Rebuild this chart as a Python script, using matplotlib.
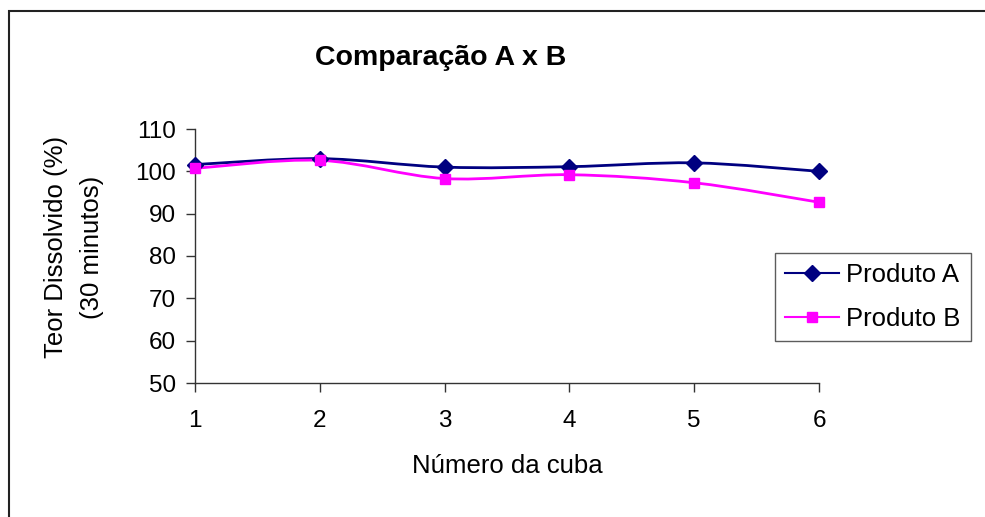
import matplotlib
matplotlib.use("Agg")
import matplotlib.pyplot as plt
from matplotlib.path import Path
from matplotlib.patches import PathPatch, Rectangle
from matplotlib.lines import Line2D

plt.rcParams['font.family'] = ['Liberation Sans', 'DejaVu Sans']

cubas = [1, 2, 3, 4, 5, 6]
produto_a = [101.6, 103.0, 101.0, 101.1, 102.0, 100.0]
produto_b = [100.7, 102.6, 98.3, 99.2, 97.3, 92.7]
y_ticks = [50, 60, 70, 80, 90, 100, 110]
title = "Comparação A x B"
xlabel = "Número da cuba"
ylabel = "Teor Dissolvido (%)\n(30 minutos)"
labels = ["Produto A", "Produto B"]
colors = ["#000080", "#FF00FF"]

W, H = 985, 517
fig = plt.figure(figsize=(W / 100, H / 100), dpi=100)
ax = fig.add_axes([195 / W, 1 - 383 / H, (819 - 195) / W, (383 - 129) / H])


def smooth_path(xs, ys):
    pts = list(zip(xs, ys))
    n = len(pts)
    verts = [pts[0]]
    codes = [Path.MOVETO]
    for i in range(n - 1):
        p0 = pts[i - 1] if i > 0 else pts[i]
        p1 = pts[i]
        p2 = pts[i + 1]
        p3 = pts[i + 2] if i + 2 < n else pts[i + 1]
        c1 = (p1[0] + (p2[0] - p0[0]) / 6, p1[1] + (p2[1] - p0[1]) / 6)
        c2 = (p2[0] - (p3[0] - p1[0]) / 6, p2[1] - (p3[1] - p1[1]) / 6)
        verts += [c1, c2, p2]
        codes += [Path.CURVE4] * 3
    return Path(verts, codes)


markers = ["D", "s"]
sizes = [8.5, 7.5]
handles = []
for ys, col, mk, ms, lab in zip([produto_a, produto_b], colors, markers, sizes, labels):
    patch = PathPatch(smooth_path(cubas, ys), facecolor="none", edgecolor=col,
                      lw=2, zorder=2)
    ax.add_patch(patch)
    ax.plot(cubas, ys, linestyle="none", marker=mk, color=col,
            markersize=ms, zorder=3, clip_on=False)
    handles.append(Line2D([], [], color=col, lw=1.5, marker=mk, markersize=ms))

ax.set_xlim(1, 6)
ax.set_ylim(50, 110)
ax.set_xticks(cubas)
ax.set_yticks(y_ticks)
for s in ["top", "right"]:
    ax.spines[s].set_visible(False)
for s in ["left", "bottom"]:
    ax.spines[s].set_color("#333333")
    ax.spines[s].set_linewidth(1)
ax.tick_params(axis="y", direction="out", length=6.5, width=1, color="#333333",
               labelsize=17.5, pad=7)
ax.tick_params(axis="x", direction="out", length=6.5, width=1, color="#333333",
               labelsize=17.5, pad=13)

fig.text(441 / W, 1 - 58 / H, title, ha="center", va="center",
         fontsize=20.5, fontweight="bold")
fig.text(507 / W, 1 - 466 / H, xlabel, ha="center", va="center", fontsize=18.5)
fig.text(74 / W, 1 - 247 / H, ylabel, ha="center", va="center", fontsize=18.5,
         rotation=90, multialignment="center", linespacing=1.6)

leg = fig.legend(handles, labels, loc="upper left",
                 bbox_to_anchor=(775 / W, 1 - 253 / H), fontsize=18.5,
                 frameon=True, fancybox=False, handlelength=2.1,
                 handletextpad=0.27, borderpad=0.4, labelspacing=0.75,
                 borderaxespad=0)
leg.get_frame().set_edgecolor("#333333")
leg.get_frame().set_linewidth(1)

border = Rectangle((8.5 / W, -0.1), 2, 1 - 10.5 / H + 0.1,
                   transform=fig.transFigure, fill=False, edgecolor="#222222",
                   lw=1.5, clip_on=False)
fig.add_artist(border)

fig.savefig("out.png", dpi=100)
